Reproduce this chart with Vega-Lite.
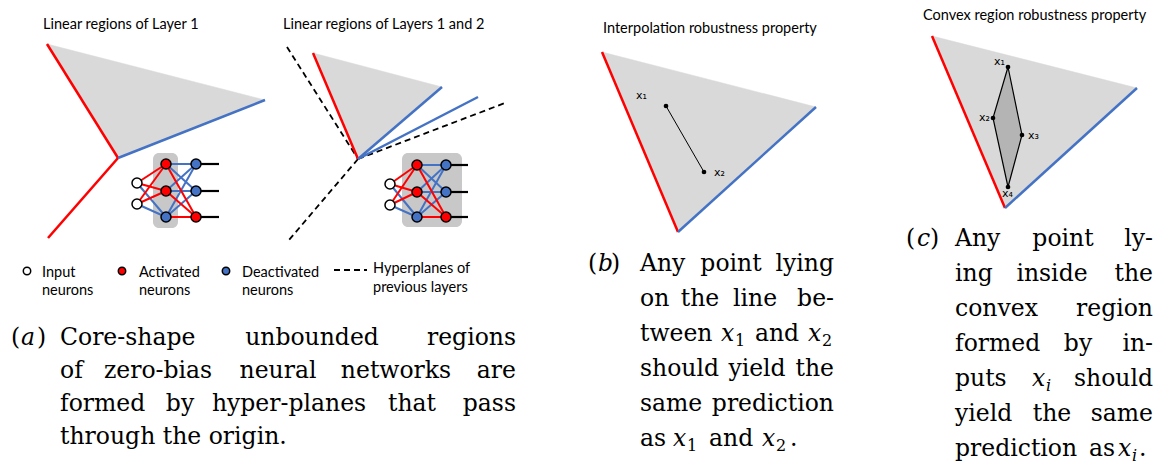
{
  "$schema": "https://vega.github.io/schema/vega-lite/v6.json",
  "width": 1159,
  "height": 464,
  "autosize": {"type": "fit", "contains": "padding"},
  "padding": 0,
  "background": "#ffffff",
  "config": {"view": {"stroke": null}},
  "datasets": {
    "regions": [
      {"s": "t1", "o": 1, "x": 47, "y": 44}, {"s": "t1", "o": 2, "x": 265, "y": 100}, {"s": "t1", "o": 3, "x": 118, "y": 158},
      {"s": "t2", "o": 1, "x": 313, "y": 53}, {"s": "t2", "o": 2, "x": 442, "y": 87}, {"s": "t2", "o": 3, "x": 358, "y": 159},
      {"s": "t3", "o": 1, "x": 602, "y": 52}, {"s": "t3", "o": 2, "x": 816, "y": 107}, {"s": "t3", "o": 3, "x": 678, "y": 232},
      {"s": "t4", "o": 1, "x": 932, "y": 36}, {"s": "t4", "o": 2, "x": 1137, "y": 88}, {"s": "t4", "o": 3, "x": 1005, "y": 208}
    ],
    "hull": [
      {"s": "d", "o": 1, "x": 1008, "y": 67}, {"s": "d", "o": 2, "x": 1022, "y": 135},
      {"s": "d", "o": 3, "x": 1008, "y": 187}, {"s": "d", "o": 4, "x": 993, "y": 118}
    ],
    "boxes": [
      {"x": 153, "x2": 178, "y": 153, "y2": 228},
      {"x": 402, "x2": 462, "y": 153, "y2": 227}
    ],
    "dashed": [
      {"x": 287, "y": 47, "x2": 358, "y2": 159},
      {"x": 358, "y": 159, "x2": 505, "y2": 103},
      {"x": 358, "y": 159, "x2": 289, "y2": 240},
      {"x": 334, "y": 270, "x2": 367, "y2": 270}
    ],
    "bounds": [
      {"x": 47, "y": 44, "x2": 118, "y2": 158, "state": "activated"},
      {"x": 118, "y": 158, "x2": 48, "y2": 238, "state": "activated"},
      {"x": 118, "y": 158, "x2": 265, "y2": 100, "state": "deactivated"},
      {"x": 313, "y": 53, "x2": 358, "y2": 159, "state": "activated"},
      {"x": 358, "y": 159, "x2": 442, "y2": 87, "state": "deactivated"},
      {"x": 358, "y": 159, "x2": 478, "y2": 97, "state": "deactivated"},
      {"x": 602, "y": 52, "x2": 678, "y2": 232, "state": "activated"},
      {"x": 678, "y": 232, "x2": 816, "y2": 107, "state": "deactivated"},
      {"x": 932, "y": 36, "x2": 1005, "y2": 208, "state": "activated"},
      {"x": 1005, "y": 208, "x2": 1137, "y2": 88, "state": "deactivated"}
    ],
    "edges": [
      {"x": 137, "y": 183, "x2": 166, "y2": 217, "state": "deactivated"},
      {"x": 137, "y": 204, "x2": 166, "y2": 217, "state": "deactivated"},
      {"x": 166, "y": 164, "x2": 196, "y2": 164, "state": "deactivated"},
      {"x": 166, "y": 164, "x2": 196, "y2": 191, "state": "deactivated"},
      {"x": 166, "y": 191, "x2": 196, "y2": 164, "state": "deactivated"},
      {"x": 166, "y": 191, "x2": 196, "y2": 191, "state": "deactivated"},
      {"x": 166, "y": 217, "x2": 196, "y2": 164, "state": "deactivated"},
      {"x": 166, "y": 217, "x2": 196, "y2": 191, "state": "deactivated"},
      {"x": 137, "y": 183, "x2": 166, "y2": 164, "state": "activated"},
      {"x": 137, "y": 183, "x2": 166, "y2": 191, "state": "activated"},
      {"x": 137, "y": 204, "x2": 166, "y2": 164, "state": "activated"},
      {"x": 137, "y": 204, "x2": 166, "y2": 191, "state": "activated"},
      {"x": 166, "y": 164, "x2": 196, "y2": 217, "state": "activated"},
      {"x": 166, "y": 191, "x2": 196, "y2": 217, "state": "activated"},
      {"x": 166, "y": 217, "x2": 196, "y2": 217, "state": "activated"},
      {"x": 390, "y": 184, "x2": 417, "y2": 217, "state": "deactivated"},
      {"x": 390, "y": 205, "x2": 417, "y2": 217, "state": "deactivated"},
      {"x": 417, "y": 165, "x2": 446, "y2": 165, "state": "deactivated"},
      {"x": 417, "y": 165, "x2": 446, "y2": 192, "state": "deactivated"},
      {"x": 417, "y": 192, "x2": 446, "y2": 165, "state": "deactivated"},
      {"x": 417, "y": 192, "x2": 446, "y2": 192, "state": "deactivated"},
      {"x": 417, "y": 217, "x2": 446, "y2": 165, "state": "deactivated"},
      {"x": 417, "y": 217, "x2": 446, "y2": 192, "state": "deactivated"},
      {"x": 390, "y": 184, "x2": 417, "y2": 165, "state": "activated"},
      {"x": 390, "y": 184, "x2": 417, "y2": 192, "state": "activated"},
      {"x": 390, "y": 205, "x2": 417, "y2": 165, "state": "activated"},
      {"x": 390, "y": 205, "x2": 417, "y2": 192, "state": "activated"},
      {"x": 417, "y": 165, "x2": 446, "y2": 217, "state": "activated"},
      {"x": 417, "y": 192, "x2": 446, "y2": 217, "state": "activated"},
      {"x": 417, "y": 217, "x2": 446, "y2": 217, "state": "activated"}
    ],
    "stubs": [
      {"x": 196, "y": 164, "x2": 219, "y2": 164}, {"x": 196, "y": 191, "x2": 219, "y2": 191}, {"x": 196, "y": 217, "x2": 219, "y2": 217},
      {"x": 446, "y": 165, "x2": 468, "y2": 165}, {"x": 446, "y": 192, "x2": 468, "y2": 192}, {"x": 446, "y": 217, "x2": 468, "y2": 217}
    ],
    "neurons": [
      {"x": 137, "y": 183, "state": "input"}, {"x": 137, "y": 204, "state": "input"},
      {"x": 166, "y": 164, "state": "activated"}, {"x": 166, "y": 191, "state": "activated"}, {"x": 166, "y": 217, "state": "deactivated"},
      {"x": 196, "y": 164, "state": "deactivated"}, {"x": 196, "y": 191, "state": "deactivated"}, {"x": 196, "y": 217, "state": "activated"},
      {"x": 390, "y": 184, "state": "input"}, {"x": 390, "y": 205, "state": "input"},
      {"x": 417, "y": 165, "state": "activated"}, {"x": 417, "y": 192, "state": "activated"}, {"x": 417, "y": 217, "state": "deactivated"},
      {"x": 446, "y": 165, "state": "deactivated"}, {"x": 446, "y": 192, "state": "deactivated"}, {"x": 446, "y": 217, "state": "activated"}
    ],
    "legendpts": [
      {"x": 27, "y": 271, "state": "input"},
      {"x": 122, "y": 271, "state": "activated"},
      {"x": 226, "y": 271, "state": "deactivated"}
    ],
    "seg": [
      {"x": 666, "y": 106, "x2": 704, "y2": 172}
    ],
    "dots": [
      {"x": 666, "y": 106}, {"x": 704, "y": 172},
      {"x": 1008, "y": 67}, {"x": 993, "y": 118}, {"x": 1022, "y": 135}, {"x": 1008, "y": 187}
    ],
    "titles": [
      {"t": "Linear regions of Layer 1", "x": 43, "y": 29},
      {"t": "Linear regions of Layers 1 and 2", "x": 283, "y": 29},
      {"t": "Interpolation robustness property", "x": 603, "y": 33},
      {"t": "Convex region robustness property", "x": 923, "y": 20}
    ],
    "legendtext": [
      {"t": "Input", "x": 42, "y": 277}, {"t": "neurons", "x": 42, "y": 295},
      {"t": "Activated", "x": 139, "y": 277}, {"t": "neurons", "x": 139, "y": 295},
      {"t": "Deactivated", "x": 242, "y": 277}, {"t": "neurons", "x": 242, "y": 295},
      {"t": "Hyperplanes of", "x": 373, "y": 273}, {"t": "previous layers", "x": 373, "y": 292}
    ],
    "ptlabels": [
      {"t": "x₁", "x": 636, "y": 99}, {"t": "x₂", "x": 714, "y": 176},
      {"t": "x₁", "x": 994, "y": 65}, {"t": "x₂", "x": 979, "y": 121},
      {"t": "x₃", "x": 1028, "y": 139}, {"t": "x₄", "x": 1002, "y": 197}
    ],
    "wordsL": [
      {"t": "(", "x": 11, "y": 345}, {"t": ")", "x": 37, "y": 345},
      {"t": "Core-shape", "x": 60, "y": 345},
      {"t": "of", "x": 60, "y": 378},
      {"t": "formed", "x": 60, "y": 411},
      {"t": "through the origin.", "x": 60, "y": 444},
      {"t": "(", "x": 588, "y": 271}, {"t": ")", "x": 611, "y": 271},
      {"t": "Any", "x": 640, "y": 271},
      {"t": "on", "x": 640, "y": 306},
      {"t": "tween", "x": 640, "y": 341},
      {"t": "should", "x": 640, "y": 376},
      {"t": "same", "x": 640, "y": 411},
      {"t": "as", "x": 640, "y": 446}, {"t": "and", "x": 709, "y": 446}, {"t": ".", "x": 790, "y": 446},
      {"t": "(", "x": 906, "y": 246}, {"t": ")", "x": 930, "y": 246},
      {"t": "Any", "x": 955, "y": 246},
      {"t": "ing", "x": 955, "y": 281},
      {"t": "convex", "x": 955, "y": 316},
      {"t": "formed", "x": 955, "y": 351},
      {"t": "puts", "x": 955, "y": 386},
      {"t": "yield", "x": 955, "y": 421},
      {"t": "prediction", "x": 955, "y": 456}, {"t": "as", "x": 1089, "y": 456}, {"t": ".", "x": 1139, "y": 456}
    ],
    "wordsC": [
      {"t": "unbounded", "x": 312, "y": 345},
      {"t": "zero-bias", "x": 158, "y": 378}, {"t": "neural", "x": 278, "y": 378}, {"t": "networks", "x": 396, "y": 378},
      {"t": "by", "x": 180, "y": 411}, {"t": "hyper-planes", "x": 289, "y": 411}, {"t": "that", "x": 412, "y": 411},
      {"t": "point", "x": 731, "y": 271},
      {"t": "the", "x": 700, "y": 306}, {"t": "line", "x": 755, "y": 306},
      {"t": "and", "x": 777, "y": 341},
      {"t": "yield", "x": 757, "y": 376},
      {"t": "point", "x": 1063, "y": 246},
      {"t": "inside", "x": 1052, "y": 281},
      {"t": "by", "x": 1078, "y": 351},
      {"t": "the", "x": 1052, "y": 421}
    ],
    "wordsR": [
      {"t": "regions", "x": 516, "y": 345},
      {"t": "are", "x": 516, "y": 378},
      {"t": "pass", "x": 516, "y": 411},
      {"t": "lying", "x": 834, "y": 271},
      {"t": "be-", "x": 834, "y": 306},
      {"t": "the", "x": 834, "y": 376},
      {"t": "prediction", "x": 834, "y": 411},
      {"t": "ly-", "x": 1153, "y": 246},
      {"t": "the", "x": 1153, "y": 281},
      {"t": "region", "x": 1153, "y": 316},
      {"t": "in-", "x": 1153, "y": 351},
      {"t": "should", "x": 1153, "y": 386},
      {"t": "same", "x": 1153, "y": 421}
    ],
    "mathwords": [
      {"t": "a", "x": 21, "y": 345},
      {"t": "b", "x": 598, "y": 271},
      {"t": "x", "x": 721, "y": 341}, {"t": "x", "x": 808, "y": 341},
      {"t": "x", "x": 673, "y": 446}, {"t": "x", "x": 762, "y": 446},
      {"t": "c", "x": 917, "y": 246},
      {"t": "x", "x": 1032, "y": 386},
      {"t": "x", "x": 1118, "y": 456}
    ],
    "subs": [
      {"t": "1", "x": 735, "y": 346}, {"t": "2", "x": 822, "y": 346},
      {"t": "1", "x": 687, "y": 451}, {"t": "2", "x": 776, "y": 451}
    ],
    "subsi": [
      {"t": "i", "x": 1046, "y": 391},
      {"t": "i", "x": 1132, "y": 461}
    ]
  },
  "encoding": {
    "x": {"field": "x", "type": "quantitative", "scale": {"domain": [0, 1159], "nice": false, "zero": false}, "axis": null},
    "y": {"field": "y", "type": "quantitative", "scale": {"domain": [0, 464], "nice": false, "zero": false, "reverse": true}, "axis": null}
  },
  "layer": [
    {
      "data": {"name": "regions"},
      "mark": {"type": "line", "fill": "#d9d9d9", "stroke": "#d9d9d9", "strokeWidth": 0.5, "interpolate": "linear-closed"},
      "encoding": {"detail": {"field": "s", "type": "nominal"}, "order": {"field": "o", "type": "quantitative"}}
    },
    {
      "data": {"name": "boxes"},
      "mark": {"type": "rect", "fill": "#c8c8c8", "cornerRadius": 6},
      "encoding": {"x2": {"field": "x2"}, "y2": {"field": "y2"}}
    },
    {
      "data": {"name": "dashed"},
      "mark": {"type": "rule", "stroke": "#000000", "strokeWidth": 1.8, "strokeDash": [6, 4]},
      "encoding": {"x2": {"field": "x2"}, "y2": {"field": "y2"}}
    },
    {
      "data": {"name": "bounds"},
      "mark": {"type": "rule", "strokeWidth": 2.5},
      "encoding": {
        "x2": {"field": "x2"}, "y2": {"field": "y2"},
        "color": {"field": "state", "type": "nominal", "scale": {"domain": ["input", "activated", "deactivated", "previous"], "range": ["#ffffff", "#ff0000", "#4472c4", "#000000"]}, "legend": null}
      }
    },
    {
      "data": {"name": "edges"},
      "mark": {"type": "rule", "strokeWidth": 2},
      "encoding": {
        "x2": {"field": "x2"}, "y2": {"field": "y2"},
        "color": {"field": "state", "type": "nominal", "scale": {"domain": ["input", "activated", "deactivated", "previous"], "range": ["#ffffff", "#ff0000", "#4472c4", "#000000"]}, "legend": null}
      }
    },
    {
      "data": {"name": "stubs"},
      "mark": {"type": "rule", "stroke": "#000000", "strokeWidth": 2.2},
      "encoding": {"x2": {"field": "x2"}, "y2": {"field": "y2"}}
    },
    {
      "data": {"name": "neurons"},
      "mark": {"type": "point", "filled": true, "stroke": "#000000", "strokeWidth": 1.5, "size": 100, "opacity": 1},
      "encoding": {
        "color": {"field": "state", "type": "nominal", "scale": {"domain": ["input", "activated", "deactivated", "previous"], "range": ["#ffffff", "#ff0000", "#4472c4", "#000000"]}, "legend": null}
      }
    },
    {
      "data": {"name": "legendpts"},
      "mark": {"type": "point", "filled": true, "stroke": "#000000", "strokeWidth": 1.5, "size": 55, "opacity": 1},
      "encoding": {
        "color": {"field": "state", "type": "nominal", "scale": {"domain": ["input", "activated", "deactivated", "previous"], "range": ["#ffffff", "#ff0000", "#4472c4", "#000000"]}, "legend": null}
      }
    },
    {
      "data": {"name": "hull"},
      "mark": {"type": "line", "fill": "#b4b4b4", "stroke": "#000000", "strokeWidth": 1.2, "interpolate": "linear-closed"},
      "encoding": {"detail": {"field": "s", "type": "nominal"}, "order": {"field": "o", "type": "quantitative"}}
    },
    {
      "data": {"name": "seg"},
      "mark": {"type": "rule", "stroke": "#000000", "strokeWidth": 1},
      "encoding": {"x2": {"field": "x2"}, "y2": {"field": "y2"}}
    },
    {
      "data": {"name": "dots"},
      "mark": {"type": "point", "filled": true, "color": "#000000", "size": 22, "opacity": 1}
    },
    {
      "data": {"name": "titles"},
      "mark": {"type": "text", "font": "Lato", "fontSize": 14.5, "align": "left", "baseline": "alphabetic", "color": "#000000"},
      "encoding": {"text": {"field": "t"}}
    },
    {
      "data": {"name": "legendtext"},
      "mark": {"type": "text", "font": "Lato", "fontSize": 14.5, "align": "left", "baseline": "alphabetic", "color": "#000000"},
      "encoding": {"text": {"field": "t"}}
    },
    {
      "data": {"name": "ptlabels"},
      "mark": {"type": "text", "font": "DejaVu Sans", "fontSize": 11, "align": "left", "baseline": "alphabetic", "color": "#000000"},
      "encoding": {"text": {"field": "t"}}
    },
    {
      "data": {"name": "wordsL"},
      "mark": {"type": "text", "font": "DejaVu Serif", "fontSize": 23.5, "align": "left", "baseline": "alphabetic", "color": "#000000"},
      "encoding": {"text": {"field": "t"}}
    },
    {
      "data": {"name": "wordsC"},
      "mark": {"type": "text", "font": "DejaVu Serif", "fontSize": 23.5, "align": "center", "baseline": "alphabetic", "color": "#000000"},
      "encoding": {"text": {"field": "t"}}
    },
    {
      "data": {"name": "wordsR"},
      "mark": {"type": "text", "font": "DejaVu Serif", "fontSize": 23.5, "align": "right", "baseline": "alphabetic", "color": "#000000"},
      "encoding": {"text": {"field": "t"}}
    },
    {
      "data": {"name": "mathwords"},
      "mark": {"type": "text", "font": "DejaVu Serif", "fontStyle": "italic", "fontSize": 23.5, "align": "left", "baseline": "alphabetic", "color": "#000000"},
      "encoding": {"text": {"field": "t"}}
    },
    {
      "data": {"name": "subs"},
      "mark": {"type": "text", "font": "DejaVu Serif", "fontSize": 16, "align": "left", "baseline": "alphabetic", "color": "#000000"},
      "encoding": {"text": {"field": "t"}}
    },
    {
      "data": {"name": "subsi"},
      "mark": {"type": "text", "font": "DejaVu Serif", "fontStyle": "italic", "fontSize": 16, "align": "left", "baseline": "alphabetic", "color": "#000000"},
      "encoding": {"text": {"field": "t"}}
    }
  ]
}
